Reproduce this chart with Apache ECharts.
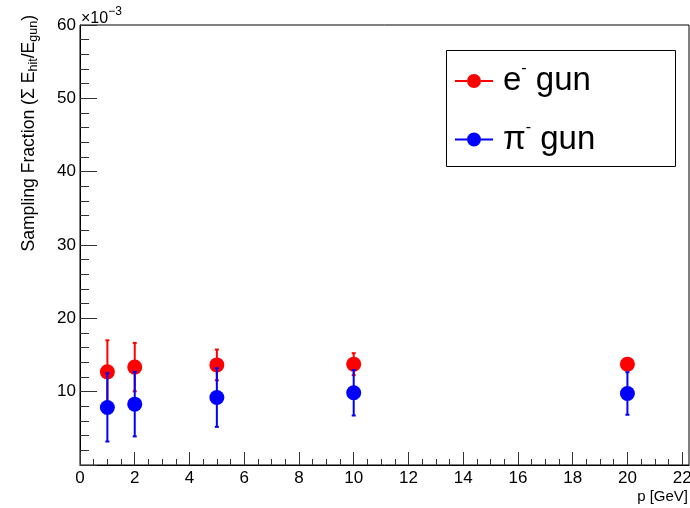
<!DOCTYPE html>
<html>
<head>
<meta charset="utf-8">
<script src="https://cdn.jsdelivr.net/npm/echarts@6/dist/echarts.min.js"></script>
<style>
  html, body { margin: 0; padding: 0; background: #fff; }
  #main { width: 690px; height: 508px; }
</style>
</head>
<body>
<div id="main"></div>
<script>
// momentum points (GeV)
var pValues = [1, 2, 5, 10, 20];
// sampling fraction, in units of 1e-3
var eMean = [12.7, 13.35, 13.65, 13.75, 13.75];
var eErr = [4.3, 3.3, 2.1, 1.5, 0.8];
var piMean = [7.85, 8.3, 9.2, 9.85, 9.75];
var piErr = [4.65, 4.4, 4.0, 3.1, 2.9];

var xMajorTicks = [0, 2, 4, 6, 8, 10, 12, 14, 16, 18, 20, 22];
var xMinorTicks = [];
for (var i = 1; i <= 44; ++i) {
  if (i % 4 != 0) xMinorTicks.push(i * 0.5);
}

var FONT = '"Liberation Sans", Arial, Helvetica, sans-serif';
var RED = '#ff0000';
var BLUE = '#0000ff';

function points(mean) {
  return pValues.map(function (p, k) { return [p, mean[k]]; });
}
function bars(mean, err) {
  return pValues.map(function (p, k) { return [p, mean[k] - err[k], mean[k] + err[k]]; });
}

function errorBar(color) {
  return function (params, api) {
    var x = api.value(0);
    var lo = api.coord([x, api.value(1)]);
    var hi = api.coord([x, api.value(2)]);
    var cap = 2;
    var st = { stroke: color, lineWidth: 2 };
    return {
      type: 'group',
      children: [
        { type: 'line', shape: { x1: lo[0], y1: lo[1], x2: hi[0], y2: hi[1] }, style: st },
        { type: 'line', shape: { x1: lo[0] - cap, y1: lo[1], x2: lo[0] + cap, y2: lo[1] }, style: st },
        { type: 'line', shape: { x1: hi[0] - cap, y1: hi[1], x2: hi[0] + cap, y2: hi[1] }, style: st }
      ]
    };
  };
}

// line + marker legend icon, like ROOT's "lp" entries
var legendIcon = 'path://M0,6 L12,6 L12,8 L0,8 Z M26,6 L38,6 L38,8 L26,8 Z ' +
  'M19,0 A7,7 0 1 1 19,14 A7,7 0 1 1 19,0 Z';

var chart = echarts.init(document.getElementById('main'), null, { renderer: 'canvas' });

var option = {
  animation: false,
  backgroundColor: '#fff',
  textStyle: { fontFamily: FONT },
  grid: {
    left: 80, right: 1, top: 25, bottom: 43,
    show: true, borderColor: '#000', borderWidth: 1,
    backgroundColor: '#fff',
    outerBoundsMode: 'none'
  },
  xAxis: [{
    type: 'value', min: 0, max: 22.25,
    axisLine: { onZero: false, lineStyle: { color: '#000', width: 1 } },
    axisTick: { customValues: xMajorTicks, inside: true, length: 13, lineStyle: { color: '#333' } },
    axisLabel: { customValues: xMajorTicks, margin: 5, fontSize: 17, color: '#000', fontFamily: FONT },
    splitLine: { show: false }
  }, {
    type: 'value', min: 0, max: 22.25, position: 'bottom',
    axisLine: { show: false, onZero: false },
    axisTick: { customValues: xMinorTicks, inside: true, length: 6, lineStyle: { color: '#333' } },
    axisLabel: { show: false },
    splitLine: { show: false }
  }],
  yAxis: {
    type: 'value', min: 0, max: 60, interval: 10,
    axisLine: { onZero: false, lineStyle: { color: '#000', width: 1 } },
    axisTick: { inside: true, length: 17, lineStyle: { color: '#333' } },
    minorTick: { show: true, splitNumber: 5, length: 9, lineStyle: { color: '#333' } },
    axisLabel: {
      margin: 4, fontSize: 17, color: '#000', fontFamily: FONT,
      formatter: function (v) { return v === 0 ? '' : String(v); }
    },
    splitLine: { show: false }
  },
  legend: {
    orient: 'vertical',
    left: 455, top: 61,
    padding: 0,
    itemGap: 22,
    itemWidth: 38, itemHeight: 14,
    selectedMode: false,
    data: [
      { name: 'e', icon: legendIcon },
      { name: 'pi', icon: legendIcon }
    ],
    formatter: function (name) {
      return name === 'e' ? '{sp|}{t|e}{s|-}{t| gun}' : '{sp|}{t|π}{s|-}{t| gun}';
    },
    textStyle: {
      color: '#000', fontFamily: FONT,
      rich: {
        sp: { width: 5, lineHeight: 40 },
        t: { fontSize: 33, lineHeight: 40, fontFamily: FONT, color: '#000' },
        s: { fontSize: 16, lineHeight: 26, verticalAlign: 'top', fontFamily: FONT, color: '#000' }
      }
    }
  },
  graphic: [
    {
      type: 'rect', z: 3,
      shape: { x: 446.5, y: 50.5, width: 229, height: 116 },
      style: { fill: '#fff', stroke: '#000', lineWidth: 1 }
    },
    {
      type: 'text', x: 81, y: 6,
      style: {
        text: '{a|×10}{b|−3}', align: 'left', verticalAlign: 'top',
        rich: {
          a: { fontSize: 16, lineHeight: 26, fontFamily: FONT, fill: '#000' },
          b: { fontSize: 12, lineHeight: 12, verticalAlign: 'top', fontFamily: FONT, fill: '#000' }
        }
      }
    },
    {
      type: 'text', x: 29, y: 15, rotation: Math.PI / 2,
      style: {
        text: '{m|Sampling Fraction (Σ E}{d|hit}{m|/E}{d|gun}{m|)}',
        align: 'right', verticalAlign: 'middle',
        rich: {
          m: { fontSize: 17.6, lineHeight: 22, fontFamily: FONT, fill: '#000' },
          d: { fontSize: 12.5, lineHeight: 12, verticalAlign: 'bottom', fontFamily: FONT, fill: '#000' }
        }
      }
    },
    {
      type: 'text', x: 688, y: 497,
      style: {
        text: 'p [GeV]', align: 'right', verticalAlign: 'middle',
        fontSize: 15, fontFamily: FONT, fill: '#000'
      }
    }
  ],
  series: [
    {
      type: 'custom', name: 'eErr', z: 2,
      renderItem: errorBar(RED),
      encode: { x: 0, y: [1, 2] },
      data: bars(eMean, eErr)
    },
    {
      type: 'scatter', name: 'e', z: 3,
      symbol: 'circle', symbolSize: 15,
      itemStyle: { color: RED, opacity: 1 },
      data: points(eMean)
    },
    {
      type: 'custom', name: 'piErr', z: 4,
      renderItem: errorBar(BLUE),
      encode: { x: 0, y: [1, 2] },
      data: bars(piMean, piErr)
    },
    {
      type: 'scatter', name: 'pi', z: 5,
      symbol: 'circle', symbolSize: 15,
      itemStyle: { color: BLUE, opacity: 1 },
      data: points(piMean)
    }
  ]
};

chart.setOption(option);
</script>
</body>
</html>
